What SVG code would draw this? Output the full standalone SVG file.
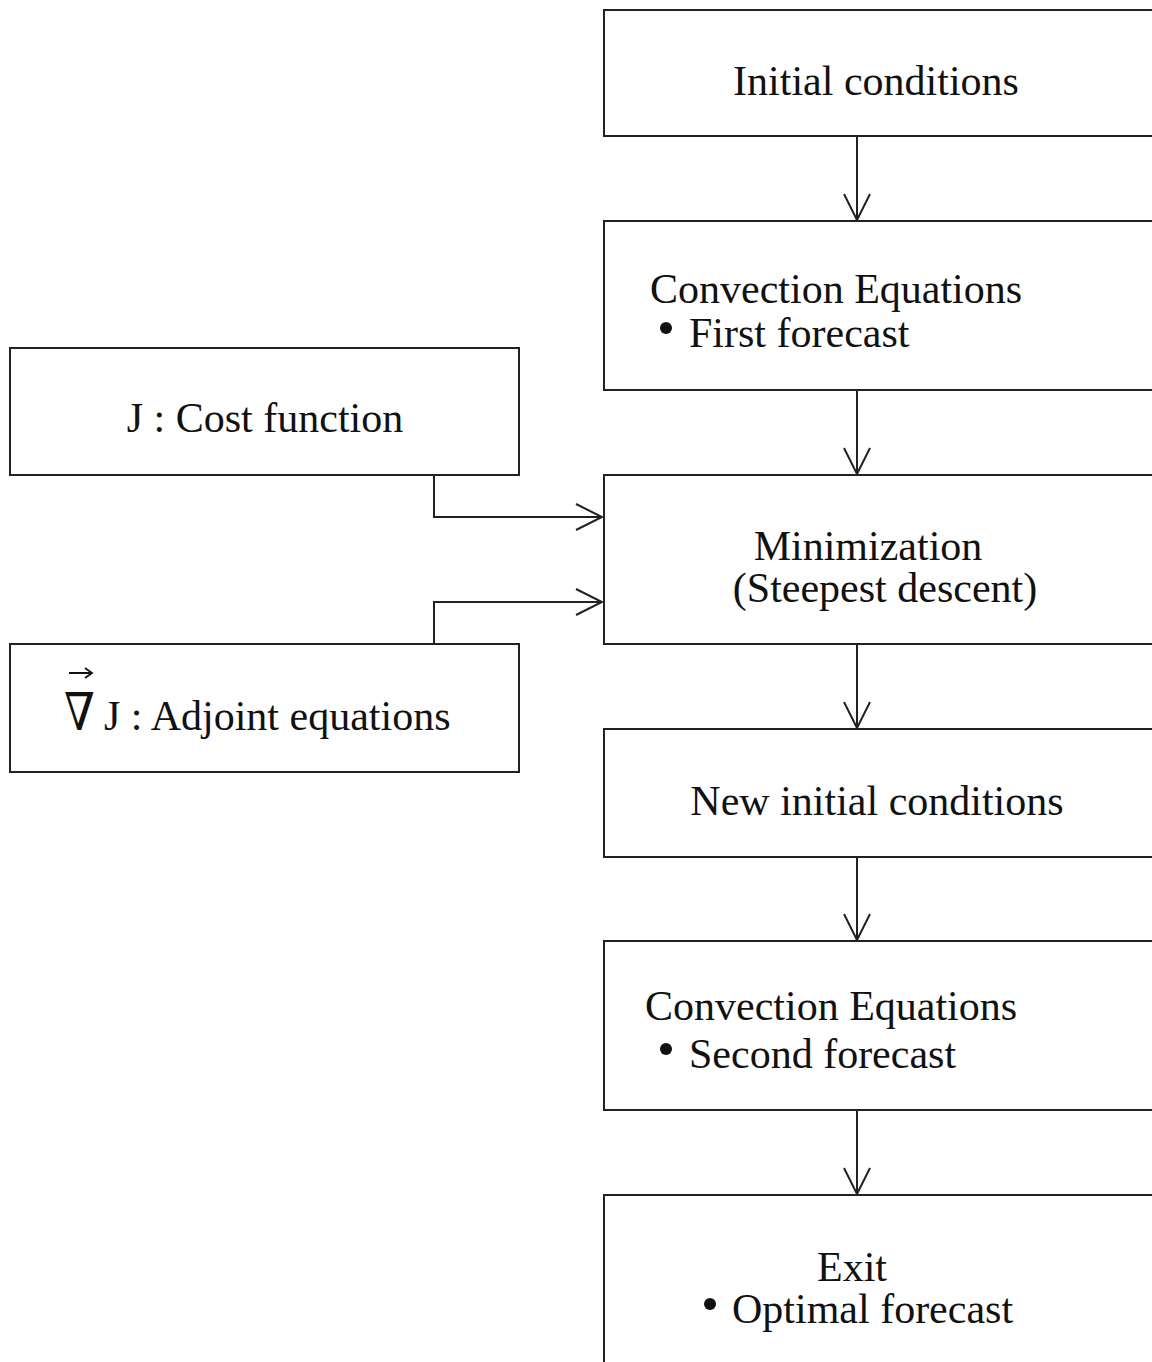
<svg xmlns="http://www.w3.org/2000/svg" width="1152" height="1362" viewBox="0 0 1152 1362">
<defs>
<style>
.box{fill:#fff;stroke:#222;stroke-width:2}
.t{font-family:"Liberation Serif","Times New Roman",serif;font-size:42px;fill:#111}
.c{text-anchor:middle}
.ln{fill:none;stroke:#222;stroke-width:2}
.dot{fill:#111}
</style>
<marker id="ah" markerWidth="30" markerHeight="30" refX="27" refY="14" orient="auto" markerUnits="userSpaceOnUse">
<path d="M1,1 L27,14 L1,27" fill="none" stroke="#222" stroke-width="2"/>
</marker>
</defs>
<rect width="1152" height="1362" fill="#fff"/>
<g id="connectors">
<line class="ln" x1="857" y1="136" x2="857" y2="220" marker-end="url(#ah)"/>
<line class="ln" x1="857" y1="390" x2="857" y2="474" marker-end="url(#ah)"/>
<line class="ln" x1="857" y1="644" x2="857" y2="728" marker-end="url(#ah)"/>
<line class="ln" x1="857" y1="857" x2="857" y2="940" marker-end="url(#ah)"/>
<line class="ln" x1="857" y1="1110" x2="857" y2="1194" marker-end="url(#ah)"/>
<polyline class="ln" points="434,475 434,517 602,517" marker-end="url(#ah)"/>
<polyline class="ln" points="434,644 434,602 602,602" marker-end="url(#ah)"/>
</g>
<g id="initial">
<rect class="box" x="604" y="10" width="560" height="126"/>
<text class="t c" x="876" y="95">Initial conditions</text>
</g>
<g id="convection1">
<rect class="box" x="604" y="221" width="560" height="169"/>
<text class="t" x="650" y="303">Convection Equations</text>
<circle class="dot" cx="666" cy="328" r="6"/>
<text class="t" x="689" y="347">First forecast</text>
</g>
<g id="cost">
<rect class="box" x="10" y="348" width="509" height="127"/>
<text class="t c" x="265" y="432">J : Cost function</text>
</g>
<g id="minimization">
<rect class="box" x="604" y="475" width="560" height="169"/>
<text class="t c" x="868" y="560">Minimization</text>
<text class="t c" x="885" y="602">(Steepest descent)</text>
</g>
<g id="adjoint">
<rect class="box" x="10" y="644" width="509" height="128"/>
<text transform="translate(64,730) scale(0.85,1)" style="font-family:'DejaVu Serif',serif;font-size:52px;fill:#111">∇</text>
<path d="M69,673 H92 M85,668 L92,673 L85,678" fill="none" stroke="#111" stroke-width="1.8"/>
<text class="t" x="104" y="730">J : Adjoint equations</text>
</g>
<g id="newinitial">
<rect class="box" x="604" y="729" width="560" height="128"/>
<text class="t c" x="877" y="815">New initial conditions</text>
</g>
<g id="convection2">
<rect class="box" x="604" y="941" width="560" height="169"/>
<text class="t" x="645" y="1020">Convection Equations</text>
<circle class="dot" cx="666" cy="1049" r="6"/>
<text class="t" x="689" y="1068">Second forecast</text>
</g>
<g id="exit">
<rect class="box" x="604" y="1195" width="560" height="200"/>
<text class="t c" x="852" y="1281">Exit</text>
<circle class="dot" cx="710" cy="1304" r="6"/>
<text class="t" x="732" y="1323">Optimal forecast</text>
</g>
</svg>
